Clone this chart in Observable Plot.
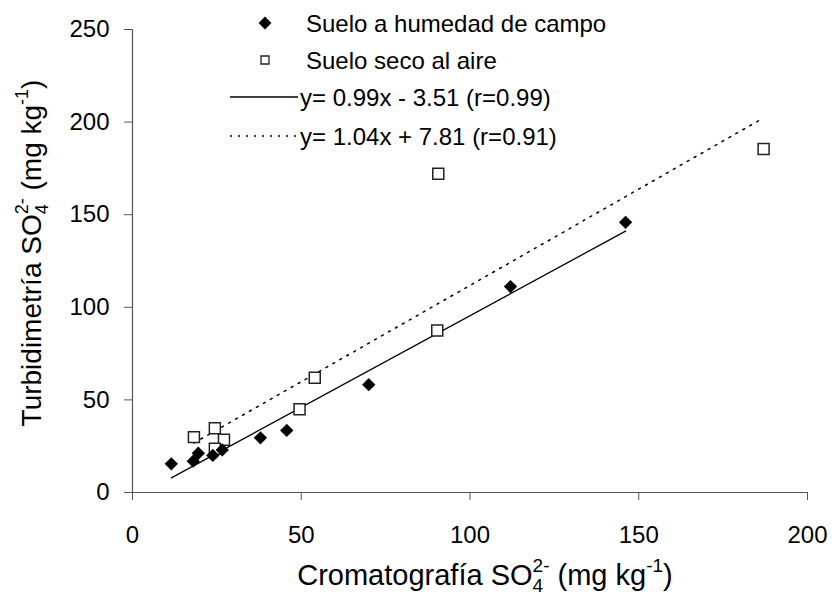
<!DOCTYPE html>
<html>
<head>
<meta charset="utf-8">
<script src="https://cdn.jsdelivr.net/npm/d3@7"></script>
<script src="https://cdn.jsdelivr.net/npm/@observablehq/plot@0.6"></script>
<style>
  html, body { margin: 0; padding: 0; background: #fff; }
  #chart { width: 836px; height: 595px; }
</style>
</head>
<body>
<div id="chart"></div>
<script>
// Suelo a humedad de campo (filled diamonds)
const humedadX = [11.5, 18.0, 19.5, 23.8, 26.6, 37.9, 45.7, 70.0, 112.0, 146.1];
const humedadY = [15.5, 16.9, 21.2, 20.0, 23.0, 29.5, 33.5, 58.2, 111.2, 145.9];
// Suelo seco al aire (open squares)
const secoX = [18.2, 24.4, 27.1, 24.4, 49.5, 54.0, 90.3, 90.6, 187.0];
const secoY = [29.9, 34.7, 28.5, 23.6, 45.0, 61.9, 87.5, 172.1, 185.5];
// Regression lines (slope, intercept) as given in the legend
const fitHumedad = {slope: 0.99, intercept: -3.51, label: "y= 0.99x - 3.51 (r=0.99)"};
const fitSeco = {slope: 1.04, intercept: 7.81, label: "y= 1.04x + 7.81 (r=0.91)"};
const seriesNames = ["Suelo a humedad de campo", "Suelo seco al aire"];
const xTicks = [0, 50, 100, 150, 200];
const yTicks = [0, 50, 100, 150, 200, 250];

const humedad = humedadX.map((x, i) => ({x, y: humedadY[i]}));
const seco = secoX.map((x, i) => ({x, y: secoY[i]}));
const fitLine = (xs, f) => {
  const [a, b] = d3.extent(xs);
  return [a, b].map(x => ({x, y: f.slope * x + f.intercept}));
};

const FONT = "'Liberation Sans', Arial, sans-serif";
const chart = Plot.plot({
  width: 836,
  height: 595,
  marginLeft: 132,
  marginRight: 29,
  marginTop: 29,
  marginBottom: 103,
  style: {fontFamily: FONT, fontSize: "24px", color: "#000", background: "#fff", overflow: "visible"},
  x: {domain: [0, 200]},
  y: {domain: [0, 250]},
  marks: [
    Plot.axisX({ticks: xTicks, tickSize: 8, tickPadding: 25, label: null, stroke: "#555", fontSize: 24}),
    Plot.axisY({ticks: yTicks, tickSize: 8, tickPadding: 15, label: null, stroke: "#555", fontSize: 24}),
    Plot.ruleY([0], {stroke: "#555", strokeWidth: 1.2}),
    Plot.ruleX([0], {stroke: "#555", strokeWidth: 1.2}),
    Plot.line(fitLine(humedadX, fitHumedad), {x: "x", y: "y", stroke: "#000", strokeWidth: 1.3}),
    Plot.line(fitLine(secoX, fitSeco), {x: "x", y: "y", stroke: "#000", strokeWidth: 1.5, strokeDasharray: "2,6"}),
    Plot.dot(seco, {x: "x", y: "y", symbol: "square2", r: 7, fill: "#fff", stroke: "#222", strokeWidth: 1.5}),
    Plot.dot(humedad, {x: "x", y: "y", symbol: "diamond2", r: 6, fill: "#000", stroke: "none"})
  ]
});
document.getElementById("chart").appendChild(chart);

const svg = d3.select(chart);
// Axis titles with sub/superscripts
function sciLabel(g, prefix, fs) {
  const s = Math.round(fs * 0.66);
  g.append("tspan").text(prefix + " SO");
  g.append("tspan").attr("font-size", s).attr("dy", fs * 0.25).text("4");
  g.append("tspan").attr("font-size", s).attr("dx", -s * 0.556).attr("dy", -fs * 0.7).text("2-");
  g.append("tspan").attr("dy", fs * 0.45).text(" (mg kg");
  g.append("tspan").attr("font-size", s).attr("dy", -fs * 0.45).text("-1");
  g.append("tspan").attr("dy", fs * 0.45).text(")");
}
const xt = svg.append("text")
  .attr("x", 485).attr("y", 585)
  .attr("text-anchor", "middle")
  .attr("font-family", FONT).attr("font-size", 29).attr("fill", "#000");
sciLabel(xt, "Cromatografía", 29);
const yt = svg.append("text")
  .attr("transform", "translate(41,253) rotate(-90)")
  .attr("text-anchor", "middle")
  .attr("font-family", FONT).attr("font-size", 28).attr("fill", "#000");
sciLabel(yt, "Turbidimetría", 28);

// Legend
const lg = svg.append("g").attr("font-family", FONT).attr("font-size", 24).attr("fill", "#000").attr("text-anchor", "start");
const rows = [23, 60, 97, 136];
lg.append("path").attr("d", d3.symbol(d3.symbolDiamond2, 105)()).attr("transform", `translate(265,${rows[0]})`).attr("fill", "#000");
lg.append("path").attr("d", d3.symbol(d3.symbolSquare2, 81)()).attr("transform", `translate(265,${rows[1]})`).attr("fill", "#fff").attr("stroke", "#222").attr("stroke-width", 1.3);
lg.append("line").attr("x1", 230).attr("x2", 298).attr("y1", rows[2]).attr("y2", rows[2]).attr("stroke", "#000").attr("stroke-width", 1.3);
lg.append("line").attr("x1", 230).attr("x2", 298).attr("y1", rows[3]).attr("y2", rows[3]).attr("stroke", "#000").attr("stroke-width", 1.5).attr("stroke-dasharray", "2,6");
const textXs = [306, 306, 300, 300];
[seriesNames[0], seriesNames[1], fitHumedad.label, fitSeco.label].forEach((t, i) => {
  lg.append("text").attr("x", textXs[i]).attr("y", rows[i]).attr("dy", "0.36em").text(t);
});
</script>
</body>
</html>
